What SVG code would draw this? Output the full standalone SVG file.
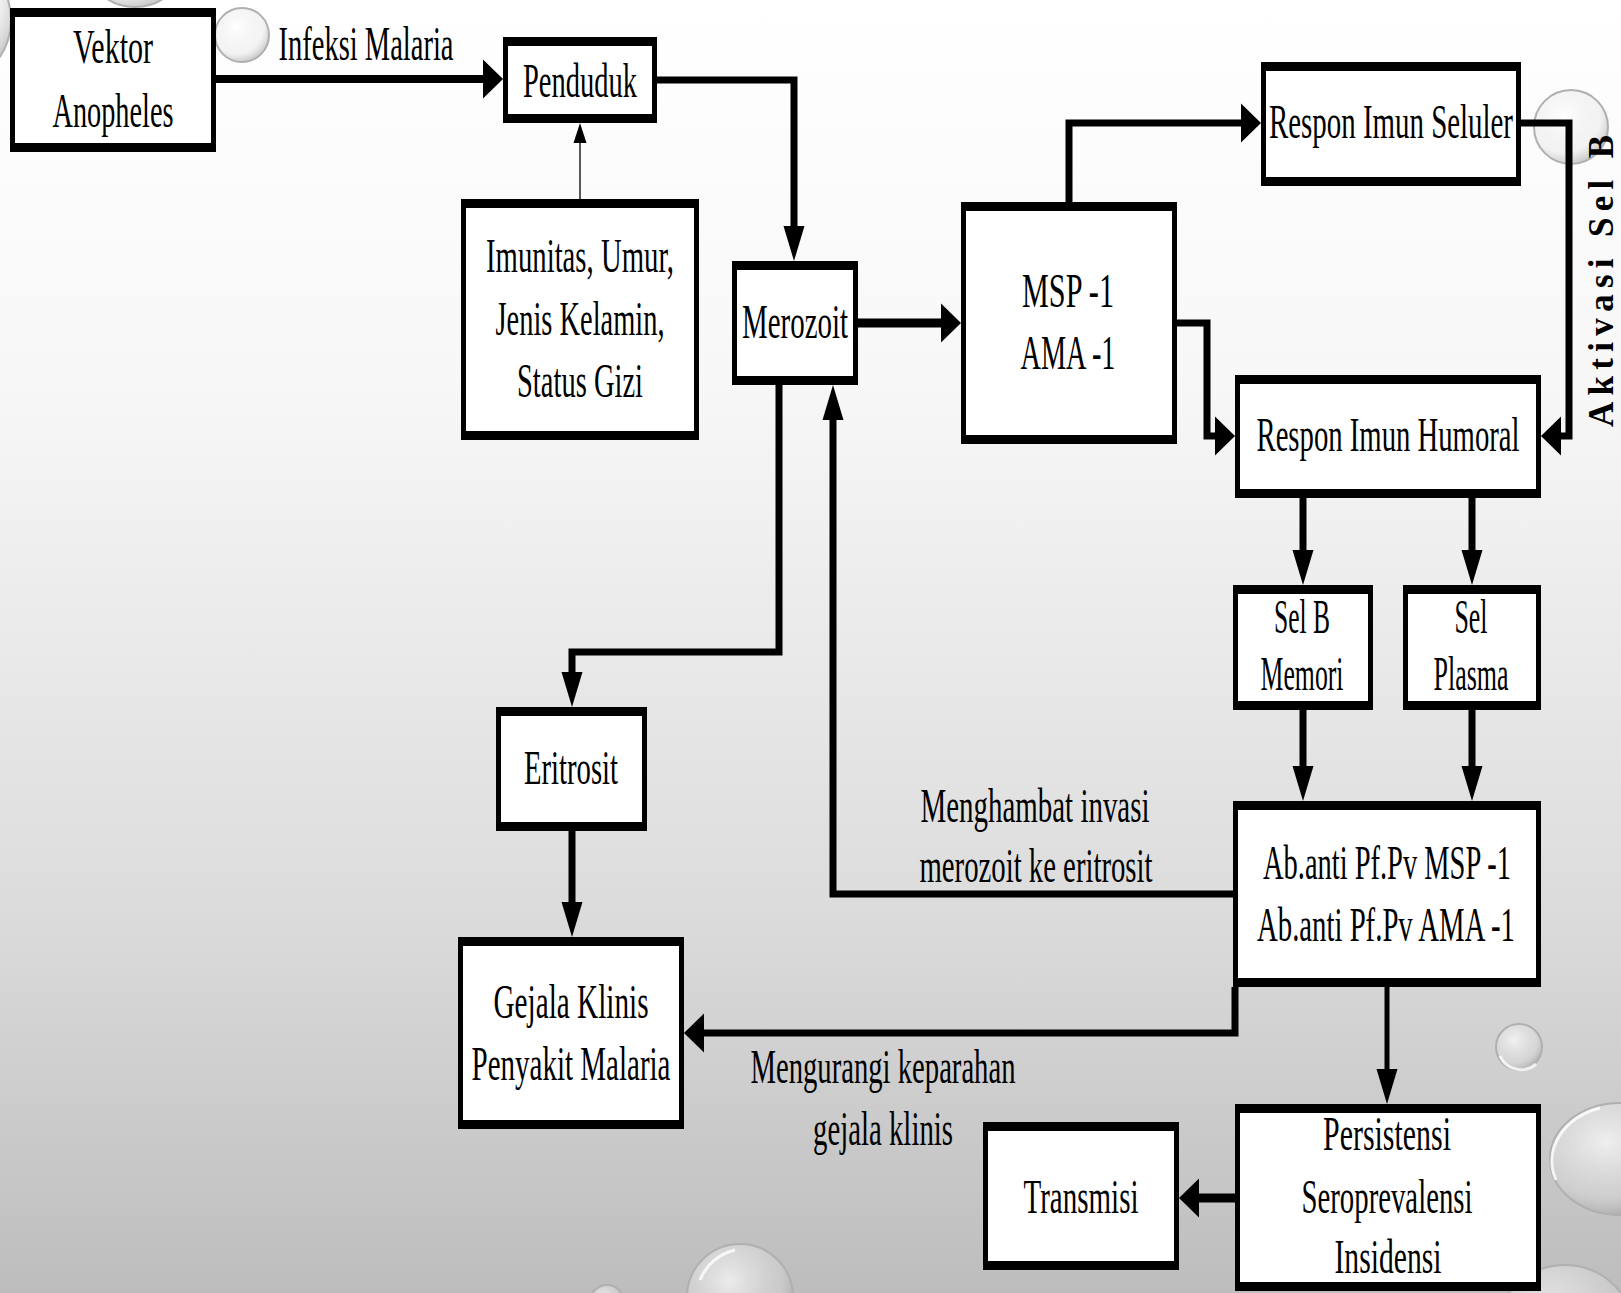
<svg xmlns="http://www.w3.org/2000/svg" width="1621" height="1293" viewBox="0 0 1621 1293">
<defs>
<linearGradient id="bg" x1="0" y1="0" x2="0" y2="1">
<stop offset="0" stop-color="#ffffff"/>
<stop offset="0.3" stop-color="#f7f7f7"/>
<stop offset="0.7" stop-color="#dcdcdc"/>
<stop offset="1" stop-color="#bdbdbd"/>
</linearGradient>
<radialGradient id="bub" cx="0.4" cy="0.35" r="0.7">
<stop offset="0" stop-color="#ffffff" stop-opacity="0.7"/>
<stop offset="0.7" stop-color="#e0e0e0" stop-opacity="0.35"/>
<stop offset="1" stop-color="#8a8a8a" stop-opacity="0.55"/>
</radialGradient>
<marker id="ah" markerUnits="userSpaceOnUse" markerWidth="22" markerHeight="40" refX="0" refY="19.5" orient="auto" overflow="visible">
<path d="M0,0 L20,19.5 L0,39 Z" fill="#000"/>
</marker>
<marker id="av" markerUnits="userSpaceOnUse" markerWidth="36" markerHeight="22" refX="0" refY="10.5" orient="auto" overflow="visible">
<path d="M0,0 L35,10.5 L0,21 Z" fill="#000"/>
</marker>
<marker id="at" markerUnits="userSpaceOnUse" markerWidth="21" markerHeight="14" refX="0" refY="6.5" orient="auto" overflow="visible">
<path d="M0,0 L20,6.5 L0,13 Z" fill="#000"/>
</marker>
</defs>
<style>
.box{fill:#fff;stroke:#000;stroke-width:5}
.bar{fill:#000}
.t{font-family:"Liberation Serif","Times New Roman",serif;font-size:49px;fill:#000;text-anchor:middle}
.c{fill:none;stroke:#000;stroke-width:7;stroke-linejoin:miter}
.thin{fill:none;stroke:#000;stroke-width:1.3}
.b{fill:url(#bub);stroke:#b0b0b0;stroke-width:2}
.hl{fill:none;stroke:#ffffff;stroke-width:3;stroke-opacity:0.8}
</style>
<rect x="0" y="0" width="1621" height="1293" fill="url(#bg)"/>
<g id="decor">
<circle class="b" cx="135" cy="-45" r="52"/>
<circle class="b" cx="-55" cy="20" r="66"/>
<circle class="b" cx="242" cy="35" r="27"/>
<circle class="b" cx="1571" cy="127" r="37"/>
<circle class="b" cx="1519" cy="1047" r="23"/>
<ellipse class="b" cx="1620" cy="1159" rx="70" ry="56"/>
<circle class="b" cx="1565" cy="1335" r="70"/>
<circle class="b" cx="740" cy="1297" r="53"/>
<circle class="b" cx="607" cy="1302" r="17"/>
<path class="hl" d="M1500,1056 A23,23 0 0 0 1536,1064"/>
<path class="hl" d="M1556,1180 A70,56 0 0 1 1600,1108"/>
<path class="hl" d="M700,1280 A50,50 0 0 1 735,1250"/>
</g>
<g id="connectors">
<path class="c" d="M216,79 H483" marker-end="url(#ah)" style="stroke-width:8"/>
<path class="c" d="M657,80 H794 V226" marker-end="url(#av)"/>
<path class="thin" d="M580,199 V143" marker-end="url(#at)"/>
<path class="c" d="M858,323 H941" marker-end="url(#ah)" style="stroke-width:9"/>
<path class="c" d="M1069,202 V123 H1241" marker-end="url(#ah)"/>
<path class="c" d="M1521,123 H1569 V436 H1561" marker-end="url(#ah)"/>
<path class="c" d="M1177,323 H1207 V436 H1215" marker-end="url(#ah)"/>
<path class="c" d="M1303,498 V550" marker-end="url(#av)"/>
<path class="c" d="M1472,498 V550" marker-end="url(#av)"/>
<path class="c" d="M1303,710 V766" marker-end="url(#av)"/>
<path class="c" d="M1472,710 V766" marker-end="url(#av)"/>
<path class="c" d="M1233,894 H833 V420" marker-end="url(#av)"/>
<path class="c" d="M779,385 V652 H572 V672" marker-end="url(#av)"/>
<path class="c" d="M572,831 V902" marker-end="url(#av)"/>
<path class="c" d="M1235,987 V1033 H704" marker-end="url(#ah)"/>
<path class="c" d="M1387,987 V1069" marker-end="url(#av)" style="stroke-width:5"/>
<path class="c" d="M1235,1198 H1199" marker-end="url(#ah)" style="stroke-width:9"/>
<text class="t" x="366" y="60" textLength="175" lengthAdjust="spacingAndGlyphs">Infeksi Malaria</text>
<text class="t" x="1035" y="822" textLength="229" lengthAdjust="spacingAndGlyphs">Menghambat invasi</text>
<text class="t" x="1036" y="882" textLength="233" lengthAdjust="spacingAndGlyphs">merozoit ke eritrosit</text>
<text class="t" x="883" y="1083" textLength="265" lengthAdjust="spacingAndGlyphs">Mengurangi keparahan</text>
<text class="t" x="883" y="1145" textLength="140" lengthAdjust="spacingAndGlyphs">gejala klinis</text>
<text class="t" transform="translate(1613,281) rotate(-90)" x="0" y="0" style="font-size:35px;font-weight:bold" textLength="292" lengthAdjust="spacing">Aktivasi Sel B</text>
</g>
<g id="vektor">
<rect class="box" x="12.5" y="10.5" width="201" height="139"/>
<rect class="bar" x="10" y="8" width="206" height="9"/><rect class="bar" x="10" y="143" width="206" height="9"/>
<text class="t" x="113" y="63" textLength="80" lengthAdjust="spacingAndGlyphs">Vektor</text>
<text class="t" x="113" y="127" textLength="121" lengthAdjust="spacingAndGlyphs">Anopheles</text>
</g>
<g id="penduduk">
<rect class="box" x="505.5" y="39.5" width="149" height="81"/>
<rect class="bar" x="503" y="37" width="154" height="9"/><rect class="bar" x="503" y="114" width="154" height="9"/>
<text class="t" x="580" y="97" textLength="114" lengthAdjust="spacingAndGlyphs">Penduduk</text>
</g>
<g id="imunitas">
<rect class="box" x="463.5" y="201.5" width="233" height="236"/>
<rect class="bar" x="461" y="199" width="238" height="9"/><rect class="bar" x="461" y="431" width="238" height="9"/>
<text class="t" x="580" y="272" textLength="188" lengthAdjust="spacingAndGlyphs">Imunitas, Umur,</text>
<text class="t" x="580" y="335" textLength="169" lengthAdjust="spacingAndGlyphs">Jenis Kelamin,</text>
<text class="t" x="580" y="397" textLength="126" lengthAdjust="spacingAndGlyphs">Status Gizi</text>
</g>
<g id="merozoit">
<rect class="box" x="734.5" y="263.5" width="121" height="119"/>
<rect class="bar" x="732" y="261" width="126" height="9"/><rect class="bar" x="732" y="376" width="126" height="9"/>
<text class="t" x="795" y="338" textLength="106" lengthAdjust="spacingAndGlyphs">Merozoit</text>
</g>
<g id="msp">
<rect class="box" x="963.5" y="204.5" width="211" height="237"/>
<rect class="bar" x="961" y="202" width="216" height="9"/><rect class="bar" x="961" y="435" width="216" height="9"/>
<text class="t" x="1068" y="307" textLength="92" lengthAdjust="spacingAndGlyphs">MSP -1</text>
<text class="t" x="1068" y="369" textLength="95" lengthAdjust="spacingAndGlyphs">AMA -1</text>
</g>
<g id="seluler">
<rect class="box" x="1263.5" y="64.5" width="255" height="119"/>
<rect class="bar" x="1261" y="62" width="260" height="9"/><rect class="bar" x="1261" y="177" width="260" height="9"/>
<text class="t" x="1391" y="138" textLength="244" lengthAdjust="spacingAndGlyphs">Respon Imun Seluler</text>
</g>
<g id="humoral">
<rect class="box" x="1237.5" y="377.5" width="301" height="118"/>
<rect class="bar" x="1235" y="375" width="306" height="9"/><rect class="bar" x="1235" y="489" width="306" height="9"/>
<text class="t" x="1388" y="451" textLength="263" lengthAdjust="spacingAndGlyphs">Respon Imun Humoral</text>
</g>
<g id="selb">
<rect class="box" x="1235.5" y="587.5" width="135" height="120"/>
<rect class="bar" x="1233" y="585" width="140" height="9"/><rect class="bar" x="1233" y="701" width="140" height="9"/>
<text class="t" x="1302" y="633" textLength="56" lengthAdjust="spacingAndGlyphs">Sel B</text>
<text class="t" x="1302" y="690" textLength="83" lengthAdjust="spacingAndGlyphs">Memori</text>
</g>
<g id="plasma">
<rect class="box" x="1405.5" y="587.5" width="133" height="120"/>
<rect class="bar" x="1403" y="585" width="138" height="9"/><rect class="bar" x="1403" y="701" width="138" height="9"/>
<text class="t" x="1471" y="633" textLength="33" lengthAdjust="spacingAndGlyphs">Sel</text>
<text class="t" x="1471" y="690" textLength="75" lengthAdjust="spacingAndGlyphs">Plasma</text>
</g>
<g id="antibodi">
<rect class="box" x="1235.5" y="803.5" width="303" height="181"/>
<rect class="bar" x="1233" y="801" width="308" height="9"/><rect class="bar" x="1233" y="978" width="308" height="9"/>
<text class="t" x="1387" y="879" textLength="248" lengthAdjust="spacingAndGlyphs">Ab.anti Pf.Pv MSP -1</text>
<text class="t" x="1386" y="941" textLength="258" lengthAdjust="spacingAndGlyphs">Ab.anti Pf.Pv AMA -1</text>
</g>
<g id="eritrosit">
<rect class="box" x="498.5" y="709.5" width="146" height="119"/>
<rect class="bar" x="496" y="707" width="151" height="9"/><rect class="bar" x="496" y="822" width="151" height="9"/>
<text class="t" x="571" y="784" textLength="94" lengthAdjust="spacingAndGlyphs">Eritrosit</text>
</g>
<g id="gejala">
<rect class="box" x="460.5" y="939.5" width="221" height="187"/>
<rect class="bar" x="458" y="937" width="226" height="9"/><rect class="bar" x="458" y="1120" width="226" height="9"/>
<text class="t" x="571" y="1018" textLength="155" lengthAdjust="spacingAndGlyphs">Gejala Klinis</text>
<text class="t" x="571" y="1080" textLength="199" lengthAdjust="spacingAndGlyphs">Penyakit Malaria</text>
</g>
<g id="transmisi">
<rect class="box" x="985.5" y="1124.5" width="191" height="143"/>
<rect class="bar" x="983" y="1122" width="196" height="9"/><rect class="bar" x="983" y="1261" width="196" height="9"/>
<text class="t" x="1081" y="1213" textLength="115" lengthAdjust="spacingAndGlyphs">Transmisi</text>
</g>
<g id="persistensi">
<rect class="box" x="1237.5" y="1106.5" width="301" height="182"/>
<rect class="bar" x="1235" y="1104" width="306" height="9"/><rect class="bar" x="1235" y="1282" width="306" height="9"/>
<text class="t" x="1387" y="1150" textLength="128" lengthAdjust="spacingAndGlyphs">Persistensi</text>
<text class="t" x="1387" y="1213" textLength="171" lengthAdjust="spacingAndGlyphs">Seroprevalensi</text>
<text class="t" x="1388" y="1273" textLength="107" lengthAdjust="spacingAndGlyphs">Insidensi</text>
</g>
</svg>
